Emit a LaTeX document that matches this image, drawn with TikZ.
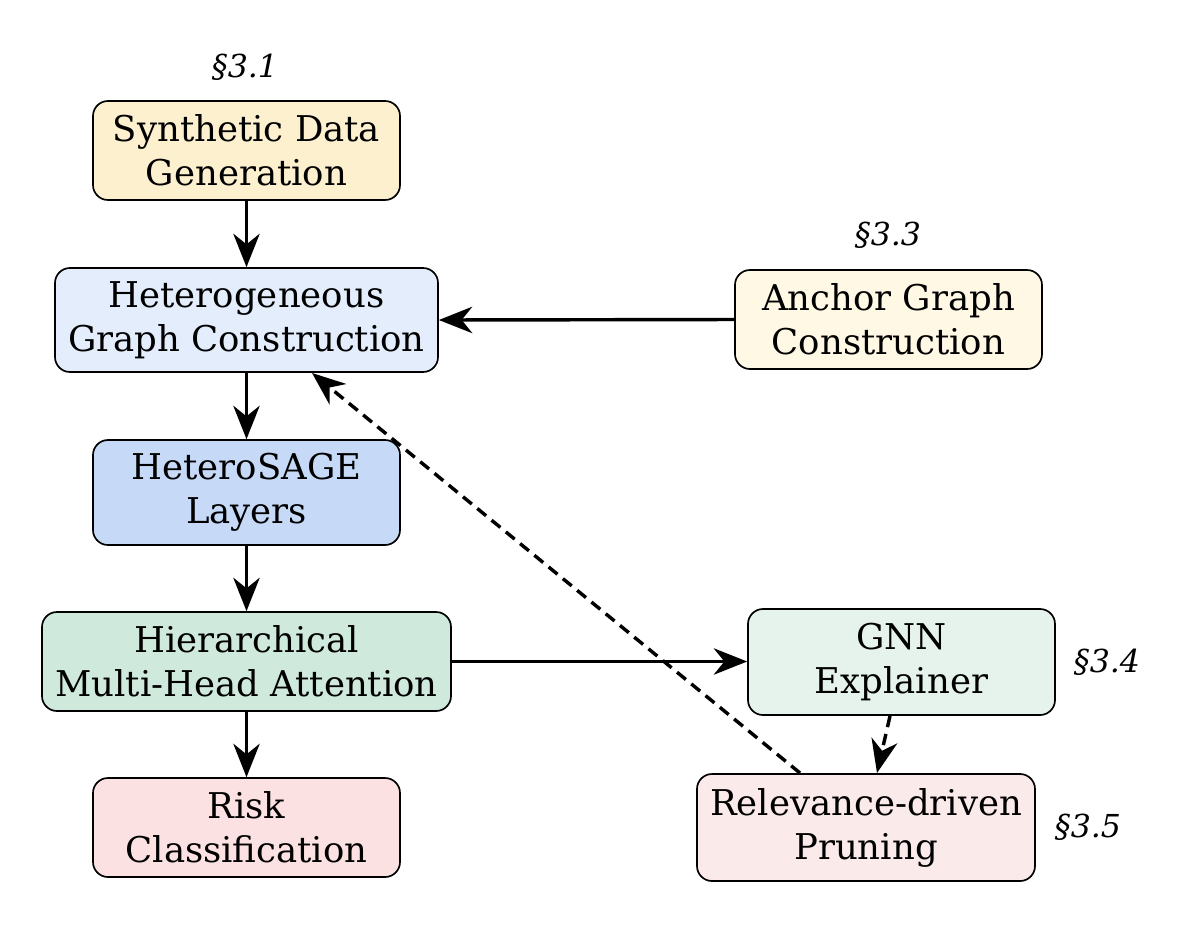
\documentclass[tikz,border=0pt]{standalone}
\usepackage{fontspec}
\setmainfont{DejaVu Serif}
\usetikzlibrary{arrows.meta}
\definecolor{cSynth}{HTML}{FDF0CF}
\definecolor{cHetero}{HTML}{E3EDFC}
\definecolor{cSage}{HTML}{C6DAF8}
\definecolor{cAtt}{HTML}{CFEADD}
\definecolor{cRisk}{HTML}{FBE1E1}
\definecolor{cAnchor}{HTML}{FEF8E5}
\definecolor{cGnn}{HTML}{E5F3EC}
\definecolor{cPrune}{HTML}{FBEAEA}
\tikzset{
  boxnode/.style={draw=black, line width=0.95pt, rounded corners=0.3cm, align=center,
    inner sep=0pt, font=\fontsize{20.2}{25}\selectfont},
  seclabel/.style={font=\fontsize{18}{22}\selectfont\itshape, inner sep=0pt},
  flow/.style={line width=1.95pt, -{Stealth[length=19pt, width=15pt, inset=6pt]}},
  dflow/.style={flow, dash pattern=on 6.5pt off 4pt}
}
\begin{document}
\begin{tikzpicture}[x=0.02cm, y=-0.02cm]
\useasboundingbox (0,0) rectangle (1197,924);
\node[boxnode, fill=cSynth, minimum width=307*0.02cm, minimum height=99*0.02cm] (synth) at (246.5,150.5) {Synthetic Data\\Generation};
\node[boxnode, fill=cHetero, minimum width=383*0.02cm, minimum height=104*0.02cm] (hetero) at (246.5,320) {Heterogeneous\\Graph Construction};
\node[boxnode, fill=cSage, minimum width=307*0.02cm, minimum height=105*0.02cm] (sage) at (246.5,492.5) {HeteroSAGE\\Layers};
\node[boxnode, fill=cAtt, minimum width=409*0.02cm, minimum height=99*0.02cm] (att) at (246.5,661.5) {Hierarchical\\Multi-Head Attention};
\node[boxnode, fill=cRisk, minimum width=307*0.02cm, minimum height=99*0.02cm] (risk) at (246.5,827.5) {Risk\\Classification};
\node[boxnode, fill=cAnchor, minimum width=307*0.02cm, minimum height=99*0.02cm] (anchor) at (888.5,319.5) {Anchor Graph\\Construction};
\node[boxnode, fill=cGnn, minimum width=307*0.02cm, minimum height=106*0.02cm] (gnn) at (901.5,662) {GNN\\Explainer};
\node[boxnode, fill=cPrune, minimum width=338*0.02cm, minimum height=107*0.02cm] (prune) at (866,827.5) {Relevance-driven\\Pruning};

\node[seclabel] (s31) at (245,67) {§3.1};
\node[seclabel] (s33) at (888,235) {§3.3};
\node[seclabel] (s34) at (1107,662) {§3.4};
\node[seclabel] (s35) at (1088,827) {§3.5};

\draw[flow] (synth.south) -- (hetero.north);
\draw[flow] (hetero.south) -- (sage.north);
\draw[flow] (sage.south) -- (att.north);
\draw[flow] (att.south) -- (risk.north);
\draw[flow] (anchor.west) -- (hetero.east);
\draw[flow] (att.east) -- (gnn.west |- att.east);
\coordinate (gb) at (890,716);
\coordinate (pt) at (877,773);
\draw[dflow] (gb) -- (pt);
\coordinate (pa) at (800,773);
\coordinate (hb) at (312,373);
\draw[dflow] (pa) -- (hb);
\end{tikzpicture}
\end{document}
